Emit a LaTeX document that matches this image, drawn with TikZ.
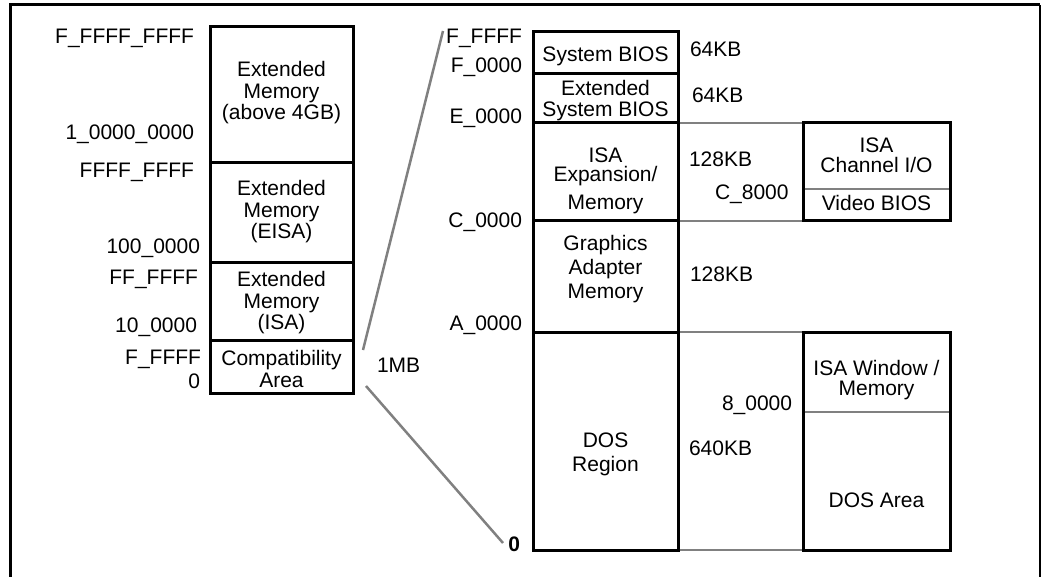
\documentclass[tikz,border=0pt]{standalone}
\usepackage{fontspec}
\setmainfont{Liberation Sans}
\definecolor{lgray}{RGB}{128,128,128}
\begin{document}
\begin{tikzpicture}[x=1pt,y=-1pt,
  box/.style={draw=black, line width=3pt, inner sep=0pt, outer sep=0pt, anchor=north west},
  txt/.style={inner sep=0pt, outer sep=0pt, align=center, font=\fontsize{21}{21.5}\selectfont},
  lbl/.style={inner sep=0pt, outer sep=0pt, anchor=base east, font=\fontsize{21}{21.5}\selectfont},
  sz/.style={inner sep=0pt, outer sep=0pt, anchor=base west, font=\fontsize{21}{21.5}\selectfont},
  gline/.style={draw=lgray, line width=2.5pt},
  frame/.style={draw=black, line width=3pt}]
\useasboundingbox (0,0) rectangle (1043,577);
% frame
\draw[frame] (10,577) -- (10,5) -- (1040,5);
\draw[draw=black, line width=2pt] (1040,5) -- (1040,577);

% left column boxes
\node[box, minimum width=143pt, minimum height=136pt] (ext4) at (210,27) {};
\node[box, minimum width=143pt, minimum height=99pt] (eisa) at (210,163) {};
\node[box, minimum width=143pt, minimum height=78pt] (isa) at (210,262) {};
\node[box, minimum width=143pt, minimum height=53pt] (compat) at (210,340) {};

\node[txt] (t-ext4) at (281.5,93) {Extended\\Memory\\(above 4GB)};
\node[txt] (t-eisa) at (281.5,212) {Extended\\Memory\\(EISA)};
\node[txt] (t-isa) at (281.5,303) {Extended\\Memory\\(ISA)};
\node[txt] (t-compat) at (281.5,369) {Compatibility\\Area};

% left labels
\node[lbl] (l1) at (194,44) {F\_FFFF\_FFFF};
\node[lbl] (l2) at (194,140) {1\_0000\_0000};
\node[lbl] (l3) at (194,178) {FFFF\_FFFF};
\node[lbl] (l4) at (200,254) {100\_0000};
\node[lbl] (l5) at (198,284) {FF\_FFFF};
\node[lbl] (l6) at (197,332) {10\_0000};
\node[lbl] (l7) at (201,364) {F\_FFFF};
\node[lbl] (l8) at (200,388) {0};
\node[sz] (mb) at (377,372) {1MB};

% right main column
\node[box, minimum width=145pt, minimum height=42pt] (sys) at (533,32) {};
\node[box, minimum width=145pt, minimum height=49pt] (extb) at (533,74) {};
\node[box, minimum width=145pt, minimum height=98pt] (isaexp) at (533,123) {};
\node[box, minimum width=145pt, minimum height=111pt] (gfx) at (533,221) {};
\node[box, minimum width=145pt, minimum height=218pt] (dos) at (533,332) {};

\node[txt] (t-sys) at (605.5,56.5) {System BIOS};
\node[txt] (t-extb) at (605.5,100.5) {Extended\\System BIOS};
\node[txt] (t-isaexp) at (605.5,181) {ISA\\[-2.5pt]Expansion/\\[6.5pt]Memory};
\node[txt] (t-gfx) at (605.5,269.5) {Graphics\\[2.5pt]Adapter\\[2.5pt]Memory};
\node[txt] (t-dos) at (605.5,454.5) {DOS\\[2.5pt]Region};

% right column labels
\node[lbl] (r1) at (522,44) {F\_FFFF};
\node[lbl] (r2) at (522,73) {F\_0000};
\node[lbl] (r3) at (522,124) {E\_0000};
\node[lbl] (r4) at (522,228) {C\_0000};
\node[lbl] (r5) at (522,330) {A\_0000};
\node[lbl, font=\fontsize{21}{21.5}\selectfont\bfseries] (r6) at (520,551) {0};

% sizes
\node[sz] (s1) at (690,57) {64KB};
\node[sz] (s2) at (692,103) {64KB};
\node[sz] (s3) at (689,167) {128KB};
\node[sz] (s4) at (715,200) {C\_8000};
\node[sz] (s5) at (690,281) {128KB};
\node[sz] (s6) at (722,410) {8\_0000};
\node[sz] (s7) at (689,455) {640KB};

% far right boxes
\node[box, minimum width=147pt, minimum height=98pt] (isach) at (803,123) {};
\node[box, minimum width=147pt, minimum height=218pt] (isawin) at (803,332) {};
\draw[gline] ([xshift=1.5pt]isach.west |- 0,189) -- ([xshift=-1.5pt]isach.east |- 0,189);
\draw[gline] ([xshift=1.5pt]isawin.west |- 0,412) -- ([xshift=-1.5pt]isawin.east |- 0,412);

\node[txt] (t-isach) at (876.5,155.5) {ISA\\[-1.5pt]Channel I/O};
\node[txt] (t-video) at (876.5,203) {Video BIOS};
\node[txt] (t-win) at (876.5,380) {ISA Window /\\[-1.5pt]Memory};
\node[txt] (t-dosarea) at (876.5,500.5) {DOS Area};

% gray connectors between columns
\draw[gline] ([xshift=1.5pt]extb.south east) -- ([xshift=-1.5pt]isach.north west);
\draw[gline] ([xshift=1.5pt]isaexp.south east) -- ([xshift=-1.5pt]isach.south west);
\draw[gline] ([xshift=1.5pt]gfx.south east) -- ([xshift=-1.5pt]isawin.north west);
\draw[gline] ([xshift=1.5pt]dos.south east) -- ([xshift=-1.5pt]isawin.south west);

% zoom lines
\coordinate (za) at (363,350);
\coordinate (zb) at (443,31);
\coordinate (zc) at (366,386);
\coordinate (zd) at (503,543);
\draw[gline] (za) -- (zb);
\draw[gline] (zc) -- (zd);
\end{tikzpicture}
\end{document}
